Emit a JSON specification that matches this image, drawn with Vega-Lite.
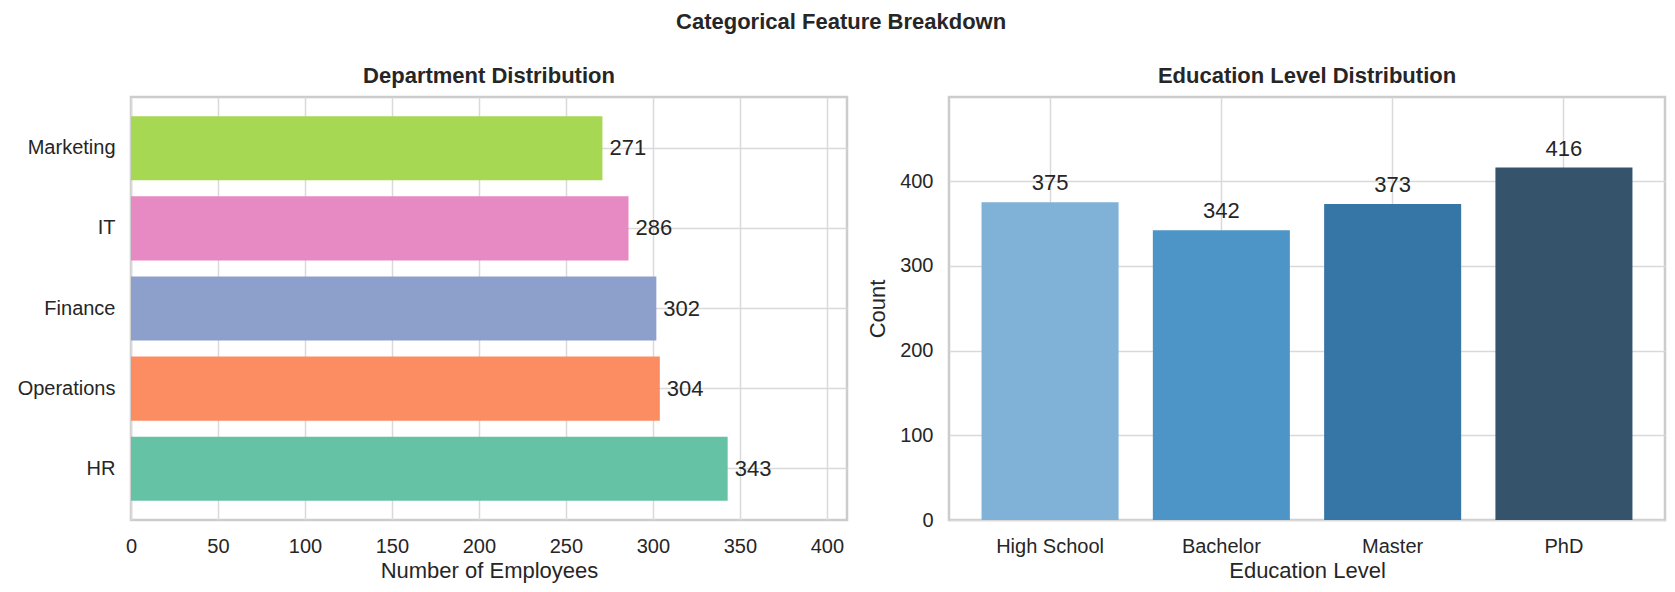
{
  "$schema": "https://vega.github.io/schema/vega-lite/v6.json",
  "background": "white",
  "padding": {"left": 15, "top": 10, "right": 5, "bottom": 5},
  "title": {
    "text": "Categorical Feature Breakdown",
    "font": "Liberation Sans",
    "fontSize": 22,
    "fontWeight": "bold",
    "color": "#262626",
    "anchor": "middle",
    "offset": 30
  },
  "hconcat": [
    {
      "width": 716,
      "height": 423,
      "title": {"text": "Department Distribution"},
      "data": {
        "values": [
          {"department": "Marketing", "count": 271},
          {"department": "IT", "count": 286},
          {"department": "Finance", "count": 302},
          {"department": "Operations", "count": 304},
          {"department": "HR", "count": 343}
        ]
      },
      "encoding": {
        "y": {
          "field": "department",
          "type": "nominal",
          "sort": ["Marketing", "IT", "Finance", "Operations", "HR"],
          "scale": {"paddingInner": 0.2, "paddingOuter": 0.24},
          "axis": {"title": null, "bandPosition": 0.5, "grid": true}
        },
        "x": {
          "field": "count",
          "type": "quantitative",
          "scale": {"domain": [0, 411.6], "nice": false},
          "axis": {
            "title": "Number of Employees",
            "values": [0, 50, 100, 150, 200, 250, 300, 350, 400],
            "grid": true,
            "labelFlush": false
          }
        }
      },
      "layer": [
        {
          "mark": {"type": "bar"},
          "encoding": {
            "color": {
              "field": "department",
              "type": "nominal",
              "scale": {
                "domain": ["Marketing", "IT", "Finance", "Operations", "HR"],
                "range": ["#a6d854", "#e78ac3", "#8da0cb", "#fc8d62", "#66c2a5"]
              },
              "legend": null
            }
          }
        },
        {
          "mark": {
            "type": "text",
            "align": "left",
            "baseline": "middle",
            "dx": 7,
            "font": "Liberation Sans",
            "fontSize": 22,
            "color": "#262626"
          },
          "encoding": {"text": {"field": "count", "type": "quantitative"}}
        }
      ]
    },
    {
      "width": 716,
      "height": 423,
      "title": {"text": "Education Level Distribution"},
      "data": {
        "values": [
          {"education": "High School", "count": 375},
          {"education": "Bachelor", "count": 342},
          {"education": "Master", "count": 373},
          {"education": "PhD", "count": 416}
        ]
      },
      "encoding": {
        "x": {
          "field": "education",
          "type": "nominal",
          "sort": ["High School", "Bachelor", "Master", "PhD"],
          "scale": {"paddingInner": 0.2, "paddingOuter": 0.19},
          "axis": {"title": "Education Level", "labelAngle": 0, "bandPosition": 0.5, "grid": true}
        },
        "y": {
          "field": "count",
          "type": "quantitative",
          "scale": {"domain": [0, 499.2], "nice": false},
          "axis": {"title": "Count", "values": [0, 100, 200, 300, 400], "grid": true, "titlePadding": 10, "labelFlush": false}
        }
      },
      "layer": [
        {
          "mark": {"type": "bar"},
          "encoding": {
            "color": {
              "field": "education",
              "type": "nominal",
              "scale": {
                "domain": ["High School", "Bachelor", "Master", "PhD"],
                "range": ["#7fb2d6", "#4e95c7", "#3676a6", "#35546c"]
              },
              "legend": null
            }
          }
        },
        {
          "mark": {
            "type": "text",
            "align": "center",
            "baseline": "alphabetic",
            "dy": -12,
            "font": "Liberation Sans",
            "fontSize": 22,
            "color": "#262626"
          },
          "encoding": {"text": {"field": "count", "type": "quantitative"}}
        }
      ]
    }
  ],
  "resolve": {"scale": {"color": "independent"}},
  "spacing": 102,
  "bounds": "flush",
  "config": {
    "font": "Liberation Sans",
    "view": {"stroke": "#cccccc", "strokeWidth": 2.5},
    "title": {"font": "Liberation Sans", "fontSize": 22, "fontWeight": "bold", "color": "#262626", "offset": 9},
    "axis": {
      "labelFont": "Liberation Sans",
      "labelFontSize": 20,
      "labelColor": "#262626",
      "labelPadding": 16,
      "titleFont": "Liberation Sans",
      "titleFontSize": 22,
      "titleFontWeight": "normal",
      "titleColor": "#262626",
      "titlePadding": 4,
      "domain": false,
      "ticks": false,
      "gridColor": "#d9d9d9",
      "gridWidth": 1.5
    }
  }
}
